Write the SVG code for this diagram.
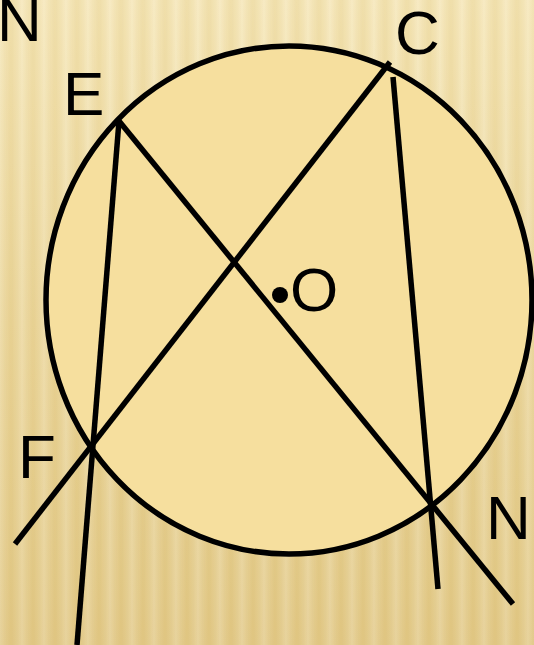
<svg xmlns="http://www.w3.org/2000/svg" width="534" height="645" viewBox="0 0 534 645">
<defs>
<linearGradient id="bg" x1="0" y1="0" x2="0" y2="1">
<stop offset="0" stop-color="#F5E6B6"/>
<stop offset="0.5" stop-color="#EBD69A"/>
<stop offset="1" stop-color="#E2C987"/>
</linearGradient>
<linearGradient id="str" x1="0" y1="0" x2="1" y2="0">
<stop offset="0" stop-color="#FFFFFF" stop-opacity="0.18"/>
<stop offset="0.5" stop-color="#C9A650" stop-opacity="0.12"/>
<stop offset="1" stop-color="#FFFFFF" stop-opacity="0.18"/>
</linearGradient>
<pattern id="stripes" width="22" height="645" patternUnits="userSpaceOnUse">
<rect width="22" height="645" fill="url(#str)"/>
</pattern>
<style>
.ln{stroke:#000;stroke-width:5.5;fill:none;stroke-linecap:butt}
.lbl{font-family:"Liberation Sans",Arial,sans-serif;font-size:62px;fill:#000}
</style>
</defs>
<rect width="534" height="645" fill="url(#bg)"/>
<rect width="534" height="645" fill="url(#stripes)"/>
<g id="circle">
<ellipse cx="289" cy="300" rx="243" ry="254" fill="#F6DF9E" stroke="#000" stroke-width="5.5"/>
</g>
<g id="connectors">
<line class="ln" x1="390" y1="62" x2="15" y2="544"/>
<line class="ln" x1="393" y1="77" x2="438" y2="589"/>
<line class="ln" x1="119" y1="121" x2="77" y2="645"/>
<line class="ln" x1="119" y1="121" x2="513" y2="604"/>
</g>
<g id="O">
<circle cx="280" cy="295" r="8" fill="#000"/>
<text class="lbl" x="290" y="311">O</text>
</g>
<g id="E"><text class="lbl" x="63" y="115">E</text></g>
<g id="C"><text class="lbl" x="395" y="54">C</text></g>
<g id="F"><text class="lbl" x="18" y="478">F</text></g>
<g id="N1"><text class="lbl" x="-3" y="41">N</text></g>
<g id="N2"><text class="lbl" x="486" y="539">N</text></g>
</svg>
